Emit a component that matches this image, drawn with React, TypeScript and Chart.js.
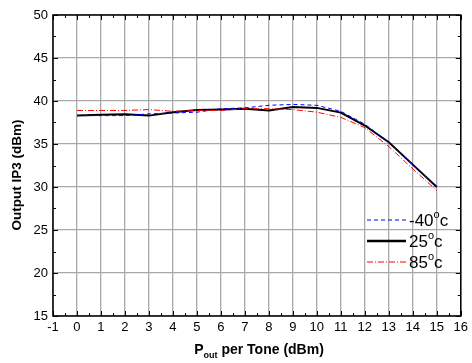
import React, { useEffect, useRef } from "react";
import { Chart, registerables } from "chart.js";
Chart.register(...registerables);

const xValues = [0, 1, 2, 3, 4, 5, 6, 7, 8, 9, 10, 11, 12, 13, 14, 15];
const seriesM40 = [38.3, 38.3, 38.3, 38.5, 38.6, 38.7, 39.1, 39.2, 39.5, 39.6, 39.5, 38.8, 37.3, 35.2, 32.6, 30.0];
const series25 = [38.3, 38.4, 38.45, 38.3, 38.7, 38.95, 39.0, 39.1, 38.9, 39.3, 39.2, 38.65, 37.15, 35.2, 32.6, 30.0];
const series85 = [38.9, 38.9, 38.9, 39.0, 38.8, 38.9, 38.9, 39.1, 39.1, 39.0, 38.7, 38.1, 36.9, 34.7, 32.1, 29.6];
const legendNums = ["-40", "25", "85"];
const xTitleMain = "P";
const xTitleSub = "out";
const xTitleRest = " per Tone (dBm)";
const yTitle = "Output IP3 (dBm)";

const FONT = "'Liberation Sans', Arial, sans-serif";

const decorPlugin = {
  id: "decor",
  afterDraw(chart: any) {
    const { ctx, chartArea: a, scales } = chart;
    const xs = scales.x, ys = scales.y;
    ctx.save();
    ctx.strokeStyle = "#000";
    ctx.lineWidth = 1;
    ctx.beginPath();
    for (let v = -1; v <= 16; v += 0.5) {
      const px = Math.round(xs.getPixelForValue(v)) + 0.5;
      const len = Number.isInteger(v) ? 5 : 3;
      ctx.moveTo(px, a.bottom); ctx.lineTo(px, a.bottom - len);
      ctx.moveTo(px, a.top); ctx.lineTo(px, a.top + len);
    }
    for (let v = 15; v <= 50; v += 2.5) {
      const py = Math.round(ys.getPixelForValue(v)) + 0.5;
      const len = v % 5 === 0 ? 5 : 3;
      ctx.moveTo(a.left, py); ctx.lineTo(a.left + len, py);
      ctx.moveTo(a.right, py); ctx.lineTo(a.right - len, py);
    }
    ctx.stroke();
    ctx.lineWidth = 1.5;
    ctx.strokeRect(a.left, a.top, a.right - a.left, a.bottom - a.top);

    const styles = [
      { color: "#0000ff", width: 1, dash: [4, 3] },
      { color: "#000000", width: 2.5, dash: [] },
      { color: "#ff0000", width: 1, dash: [6, 2, 1, 2] },
    ];
    const rows = [220, 241, 262];
    for (let i = 0; i < 3; i++) {
      const y = rows[i];
      ctx.strokeStyle = styles[i].color;
      ctx.lineWidth = styles[i].width;
      ctx.setLineDash(styles[i].dash);
      ctx.beginPath();
      ctx.moveTo(367, y); ctx.lineTo(406, y);
      ctx.stroke();
      ctx.setLineDash([]);
      ctx.fillStyle = "#000";
      ctx.textBaseline = "alphabetic";
      ctx.textAlign = "left";
      ctx.font = `17px ${FONT}`;
      let x = 409;
      const num = legendNums[i];
      ctx.fillText(num, x, y + 6);
      x += ctx.measureText(num).width;
      ctx.font = `11px ${FONT}`;
      ctx.fillText("o", x, y - 2);
      x += ctx.measureText("o").width;
      ctx.font = `17px ${FONT}`;
      ctx.fillText("c", x, y + 6);
    }

    ctx.fillStyle = "#000";
    ctx.font = `bold 14px ${FONT}`;
    const w1 = ctx.measureText(xTitleMain).width;
    const w3 = ctx.measureText(xTitleRest).width;
    ctx.font = `bold 9px ${FONT}`;
    const w2 = ctx.measureText(xTitleSub).width;
    const total = w1 + w2 + w3;
    let sx = 259 - total / 2;
    const by = 354;
    ctx.textAlign = "left";
    ctx.font = `bold 14px ${FONT}`;
    ctx.fillText(xTitleMain, sx, by);
    sx += w1;
    ctx.font = `bold 9px ${FONT}`;
    ctx.fillText(xTitleSub, sx, by + 4);
    sx += w2;
    ctx.font = `bold 14px ${FONT}`;
    ctx.fillText(xTitleRest, sx, by);

    ctx.save();
    ctx.translate(17, 175);
    ctx.rotate(-Math.PI / 2);
    ctx.textAlign = "center";
    ctx.textBaseline = "middle";
    ctx.font = `bold 13.5px ${FONT}`;
    ctx.fillText(yTitle, 0, 0);
    ctx.restore();

    ctx.restore();
  },
};

export default function App() {
  const ref = useRef<HTMLCanvasElement>(null);
  useEffect(() => {
    const mk = (arr: number[]) => xValues.map((x, i) => ({ x, y: arr[i] }));
    const chart = new Chart(ref.current!, {
      type: "line",
      data: {
        datasets: [
          { label: "85", data: mk(series85), borderColor: "#ff0000", borderWidth: 1, borderDash: [6, 2, 1, 2], pointRadius: 0, tension: 0 },
          { label: "-40", data: mk(seriesM40), borderColor: "#0000ff", borderWidth: 1, borderDash: [4, 3], pointRadius: 0, tension: 0 },
          { label: "25", data: mk(series25), borderColor: "#000000", borderWidth: 2, pointRadius: 0, tension: 0 },
        ],
      },
      options: {
        animation: false,
        responsive: false,
        layout: { padding: { top: 15, right: 9, left: 0, bottom: 0 } },
        plugins: { legend: { display: false }, tooltip: { enabled: false } },
        scales: {
          x: {
            type: "linear",
            min: -1,
            max: 16,
            afterFit: (s: any) => { s.height = 47; },
            ticks: { stepSize: 1, color: "#000", font: { family: FONT, size: 13 }, padding: 4, maxRotation: 0, autoSkip: false },
            grid: { color: "#a8a8a8", lineWidth: 1.3, drawTicks: false },
            border: { display: false },
          },
          y: {
            min: 15,
            max: 50,
            afterFit: (s: any) => { s.width = 53; },
            ticks: { stepSize: 5, color: "#000", font: { family: FONT, size: 13 }, padding: 5 },
            grid: { color: "#a8a8a8", lineWidth: 1.3, drawTicks: false },
            border: { display: false },
          },
        },
      },
      plugins: [decorPlugin],
    });
    return () => chart.destroy();
  }, []);
  return (
    <div style={{ position: "fixed", left: 0, top: 0, width: 472, height: 363, background: "#fff" }}>
      <canvas ref={ref} width={472} height={363} />
    </div>
  );
}
